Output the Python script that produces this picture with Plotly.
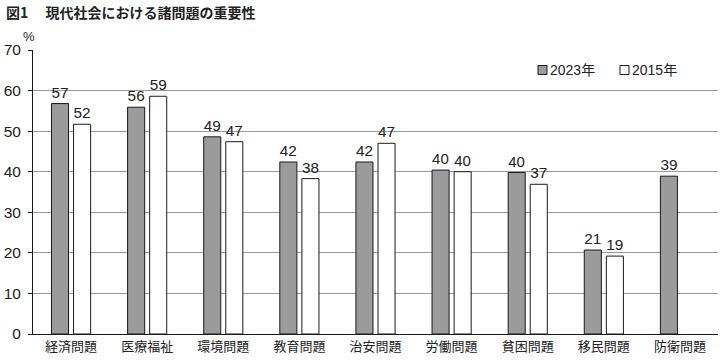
import plotly.graph_objects as go

categories = ["経済問題", "医療福祉", "環境問題", "教育問題", "治安問題", "労働問題", "貧困問題", "移民問題", "防衛問題"]
values_2023 = [56.8, 55.9, 48.6, 42.4, 42.4, 40.4, 39.8, 20.7, 38.9]
values_2015 = [51.7, 58.6, 47.4, 38.3, 47.0, 40.0, 36.9, 19.2, None]
series_names = ["2023年", "2015年"]
series_colors = ["#9b9b9b", "#ffffff"]
y_ticks = [0, 10, 20, 30, 40, 50, 60, 70]

FONT = "Liberation Sans, Noto Sans CJK JP, sans-serif"
EDGE = "#1a1a1a"

fig = go.Figure()
for name, vals, col in zip(series_names, [values_2023, values_2015], series_colors):
    fig.add_trace(go.Bar(
        name=name, x=categories, y=vals,
        marker=dict(color=col, line=dict(color=EDGE, width=1)),
        texttemplate="%{y:.0f}", textposition="outside",
        textfont=dict(size=15.5, color="#222222", family=FONT),
        cliponaxis=False, showlegend=False,
    ))

PW, PH = 685, 284  # plot area size in px
fig.update_layout(
    width=726, height=362,
    margin=dict(l=33, r=8, t=50, b=28, autoexpand=False),
    paper_bgcolor="white", plot_bgcolor="white",
    font=dict(family=FONT, color="#222222", size=13),
    barmode="group", bargap=0.42, bargroupgap=0.227,
    showlegend=False,
    xaxis=dict(
        showline=True, linecolor=EDGE, linewidth=1, automargin=False,
        ticks="", showgrid=False,
        tickfont=dict(size=13, family="Noto Sans CJK JP", color="#222222"),
    ),
    yaxis=dict(
        range=[0, 70], tickvals=y_ticks, showline=True, linecolor=EDGE, linewidth=1,
        automargin=False,
        ticks="outside", ticklen=4, tickcolor=EDGE, ticklabelstandoff=4,
        showgrid=True, gridcolor="#9a9a9a", gridwidth=1, zeroline=False,
        tickfont=dict(size=15.5, family=FONT, color="#222222"),
    ),
)

# title and unit
fig.add_annotation(
    text="<b>図1　 現代社会における諸問題の重要性</b>",
    xref="paper", yref="paper", x=-29/PW, y=1 + 38/PH, xanchor="left", yanchor="middle",
    showarrow=False, font=dict(size=14, family="Noto Sans CJK JP", color="#222222"),
)
fig.add_annotation(
    text="%", xref="paper", yref="paper", x=-4/PW, y=1 + 13/PH,
    xanchor="center", yanchor="middle", showarrow=False,
    font=dict(size=13, family=FONT, color="#222222"),
)

# legend (square swatch + label)
legend_x = [505, 587]  # px from plot left
legend_y = 1 - 20/PH
for lx, name, col in zip(legend_x, series_names, series_colors):
    fig.add_shape(
        type="rect", xref="paper", yref="paper",
        x0=lx/PW, x1=(lx + 9)/PW, y0=legend_y - 4.5/PH, y1=legend_y + 4.5/PH,
        fillcolor=col, line=dict(color=EDGE, width=1),
    )
    fig.add_annotation(
        text=name, xref="paper", yref="paper", x=(lx + 10)/PW, y=legend_y,
        xanchor="left", yanchor="middle", showarrow=False,
        font=dict(size=14, family=FONT, color="#222222"),
    )

fig.write_html(
    "out.html",
    config={"displayModeBar": False},
    post_script="document.body.style.margin='0';document.body.style.overflow='hidden';",
)
